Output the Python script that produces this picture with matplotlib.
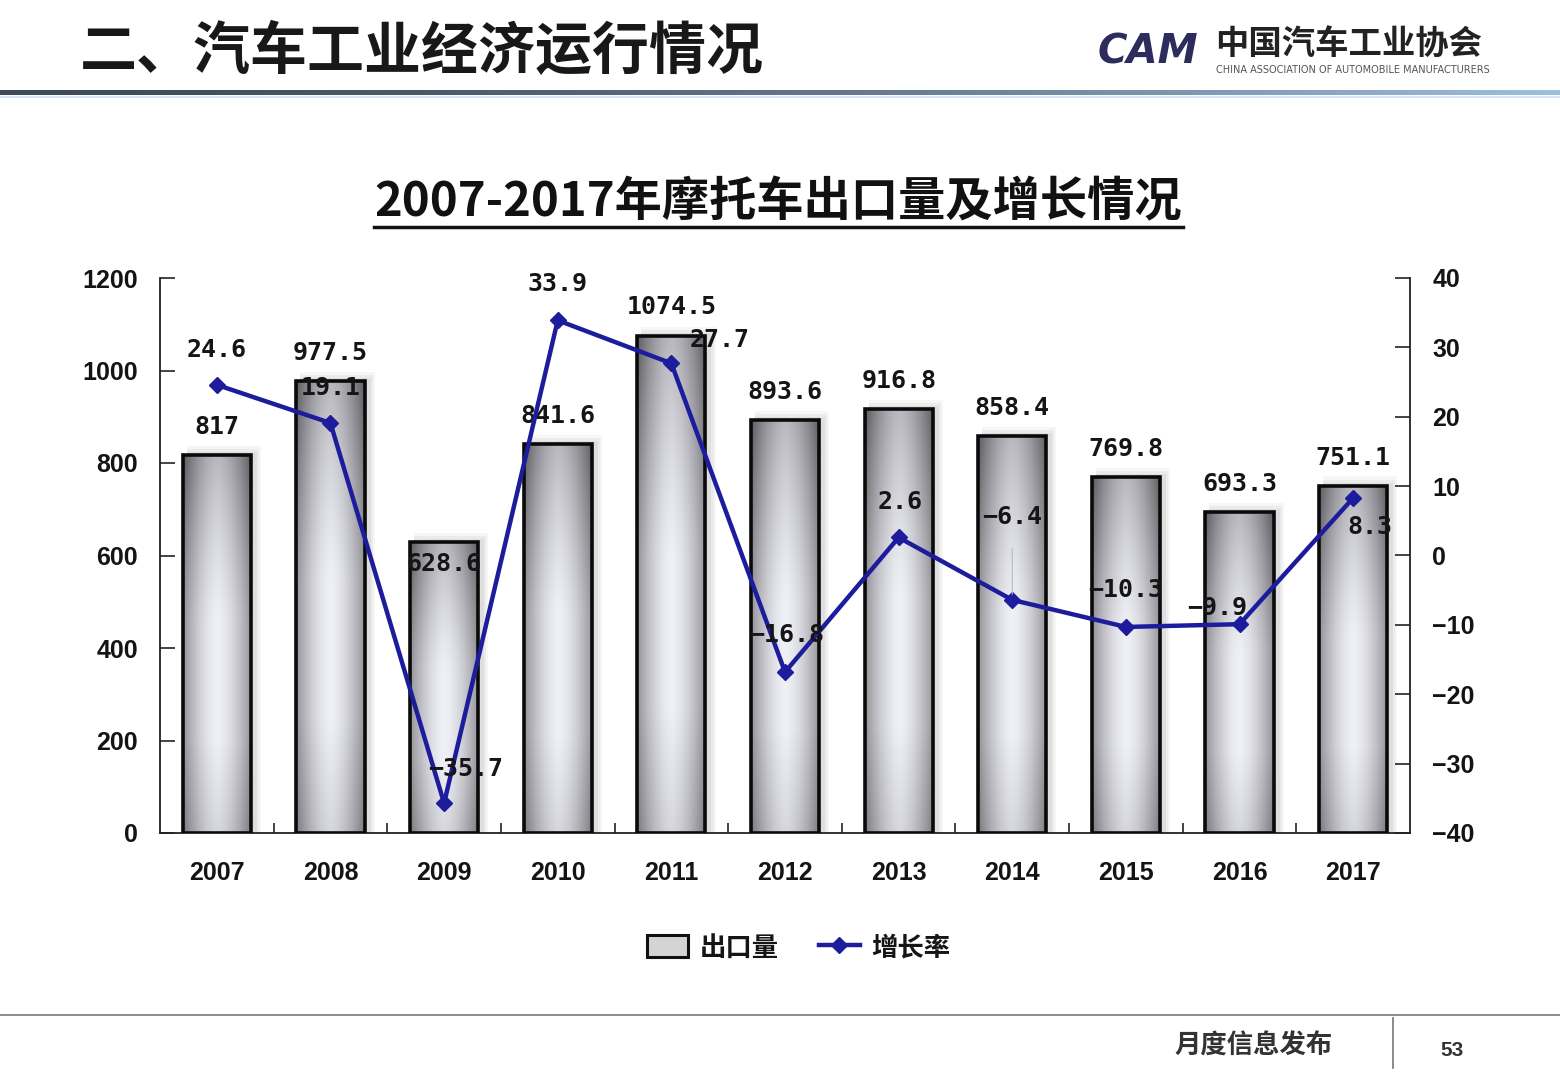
import numpy as np
import matplotlib
matplotlib.use("Agg")
import matplotlib.pyplot as plt
from matplotlib.patches import Rectangle, Patch
from matplotlib.lines import Line2D

# ---------------- data ----------------
years = ["2007", "2008", "2009", "2010", "2011", "2012", "2013", "2014", "2015", "2016", "2017"]
exports = [817, 977.5, 628.6, 841.6, 1074.5, 893.6, 916.8, 858.4, 769.8, 693.3, 751.1]
growth = [24.6, 19.1, -35.7, 33.9, 27.7, -16.8, 2.6, -6.4, -10.3, -9.9, 8.3]
left_ticks = [0, 200, 400, 600, 800, 1000, 1200]
right_ticks = [-40, -30, -20, -10, 0, 10, 20, 30, 40]

# label offsets (pixels, style only)
b_off = [28, 28, -22, 28, 29, 28, 28, 28, 28, 28, 28]
g_off = [(0, 35), (0, 35), (22, 34), (0, 36), (48, 23), (2, 37), (1, 35), (0, 83), (0, 37), (-22, 16), (17, -29)]

CJK = ['Noto Sans CJK SC', 'DejaVu Sans']
W, H = 1560, 1080
fig = plt.figure(figsize=(W / 100, H / 100), dpi=100)
fig.patch.set_facecolor('white')

def fx(px):
    return px / W

def fy(py):
    return 1 - py / H

# ---------------- header ----------------
fig.text(fx(80), fy(52), "二、汽车工业经济运行情况", family=CJK, fontsize=41, fontweight='bold',
         color='#181818', va='center', ha='left')
hax = fig.add_axes([0, fy(95), 1, 5 / H])
hax.axis('off')
t = np.linspace(0, 1, 400)
c0 = np.array([0.24, 0.29, 0.36])
c1 = np.array([0.62, 0.75, 0.88])
row = c0[None, :] * (1 - t[:, None] ** 1.5) + c1[None, :] * (t[:, None] ** 1.5)
hax.imshow(row[None, :, :], aspect='auto', extent=[0, 1, 0, 1])
fig.add_artist(Line2D([0, 1], [fy(97), fy(97)], color='#d8e4f0', lw=1.5))

# logo
fig.text(fx(1098), fy(52), "CAM", fontsize=29, fontweight='bold', style='italic',
         color='#2c2d5c', va='center', ha='left', family='DejaVu Sans')
fig.text(fx(1215), fy(44), "中国汽车工业协会", family=CJK, fontsize=24, fontweight='bold',
         color='#222222', va='center', ha='left')
fig.text(fx(1216), fy(70), "CHINA ASSOCIATION OF AUTOMOBILE MANUFACTURERS", fontsize=7,
         color='#555555', va='center', ha='left', family='DejaVu Sans')

# ---------------- title ----------------
fig.text(fx(778), fy(202), "2007-2017年摩托车出口量及增长情况", family=CJK, fontsize=34,
         fontweight='bold', color='#111111', ha='center', va='center')
fig.add_artist(Line2D([fx(374), fx(1183)], [fy(227), fy(227)], color='#111111', lw=2.5))

# ---------------- chart ----------------
ax = fig.add_axes([fx(160), fy(833), fx(1410) - fx(160), (833 - 278) / H])
ax.set_facecolor('none')
x = np.arange(len(years))
bw = 0.6

nx, ny = 60, 120
xs = np.linspace(-1, 1, nx)
ys = np.linspace(0, 1, ny)
XX, YY = np.meshgrid(xs, ys)
val = 0.94 - 0.36 * np.abs(XX) ** 1.6
val = val - 0.22 * np.clip((YY - 0.55) / 0.45, 0, 1) ** 1.3
val = val - 0.10 * np.clip((0.25 - YY) / 0.25, 0, 1)
grad = np.clip(np.stack([val, val, val * 1.02 + 0.01], axis=-1), 0, 1)

bars = ax.bar(x, exports, width=bw, facecolor='none', edgecolor='#0a0a0a', linewidth=2.6, zorder=4)
for xi, v, b, off in zip(x, exports, bars, b_off):
    for k, a in [(9, 0.05), (6, 0.07), (3, 0.09)]:
        ax.add_patch(Rectangle((xi - bw / 2 + 0.035, 0), bw + k * 0.006, v + k * 2.2,
                               facecolor='#606060', edgecolor='none', alpha=a, zorder=1))
    im = ax.imshow(grad, extent=[xi - bw / 2, xi + bw / 2, 0, v], origin='lower',
                   aspect='auto', interpolation='bicubic', zorder=3)
    im.set_clip_path(b)
    ax.annotate(f"{v:g}", (xi, v), xytext=(0, off), textcoords='offset pixels',
                ha='center', va='center', fontsize=18, fontweight='bold',
                family='DejaVu Sans Mono', color='#151515', zorder=6)

ax.set_xlim(-0.5, len(years) - 0.5)
ax.set_ylim(0, 1200)
ax.set_yticks(left_ticks)
ax.set_yticklabels([str(v) for v in left_ticks])
ax.set_xticks(x)
ax.set_xticklabels(years)
ax.set_xticks(np.arange(0.5, len(years) - 1, 1), minor=True)
ax.tick_params(axis='x', which='major', length=0, pad=20)
ax.tick_params(axis='x', which='minor', direction='in', length=7, width=1.2, color='#222')
ax.tick_params(axis='y', direction='in', length=11, width=1.2, pad=16, color='#222')
for lab in ax.get_xticklabels() + ax.get_yticklabels():
    lab.set_fontfamily('Liberation Sans')
    lab.set_fontweight('bold')
    lab.set_fontsize(18)
    lab.set_color('#141414')
for s in ['top', 'right']:
    ax.spines[s].set_visible(False)
for s in ['left', 'bottom']:
    ax.spines[s].set_linewidth(1.3)
    ax.spines[s].set_color('#222')

ax2 = ax.twinx()
ax2.set_ylim(-40, 40)
ax2.set_yticks(right_ticks)
ax2.set_yticklabels([str(v).replace('-', '\u2212') for v in right_ticks])
ax2.tick_params(axis='y', direction='in', length=11, width=1.2, pad=16, color='#222')
for lab in ax2.get_yticklabels():
    lab.set_fontfamily('Liberation Sans')
    lab.set_fontweight('bold')
    lab.set_fontsize(18)
    lab.set_color('#141414')
for s in ['top', 'left', 'bottom']:
    ax2.spines[s].set_visible(False)
ax2.spines['right'].set_linewidth(1.3)
ax2.spines['right'].set_color('#222')

line_color = '#1c1c9c'
ax2.plot(x, growth, color=line_color, lw=3.2, marker='D', ms=8, mfc=line_color, mec=line_color, zorder=5)
for xi, g, (dx, dy) in zip(x, growth, g_off):
    txt = f"{g:.1f}".replace('-', '\u2212')
    ax2.annotate(txt, (xi, g), xytext=(dx, dy), textcoords='offset pixels', ha='center', va='center',
                 fontsize=18, fontweight='bold', family='DejaVu Sans Mono', color='#151515', zorder=7,
                 arrowprops=(dict(arrowstyle='-', color='#bbbbbb', lw=0.8, shrinkA=12, shrinkB=4)
                             if dy > 60 else None))

# ---------------- legend ----------------
handles = [Patch(facecolor='#d4d4d6', edgecolor='#111111', linewidth=2.2),
           Line2D([0], [0], color=line_color, lw=3.2, marker='D', ms=8)]
leg = fig.legend(handles, ["出口量", "增长率"], loc='center', bbox_to_anchor=(fx(799), fy(948)),
                 ncol=2, frameon=False, prop={'family': CJK, 'weight': 'bold', 'size': 19},
                 handlelength=1.55, handleheight=0.9, columnspacing=1.5, handletextpad=0.45)
for t_ in leg.get_texts():
    t_.set_color('#151515')

# ---------------- footer ----------------
fig.add_artist(Line2D([0, 1], [fy(1015), fy(1015)], color='#8a8a8a', lw=1.4))
fig.add_artist(Line2D([fx(1393), fx(1393)], [fy(1018), fy(1068)], color='#777777', lw=1.2))
fig.text(fx(1254), fy(1046), "月度信息发布", family=CJK, fontsize=19, fontweight='bold',
         color='#333333', ha='center', va='center')
fig.text(fx(1452), fy(1050), "53", family='Liberation Sans', fontsize=15, fontweight='bold',
         color='#333333', ha='center', va='center')

fig.savefig("out.png", dpi=100, facecolor='white')
